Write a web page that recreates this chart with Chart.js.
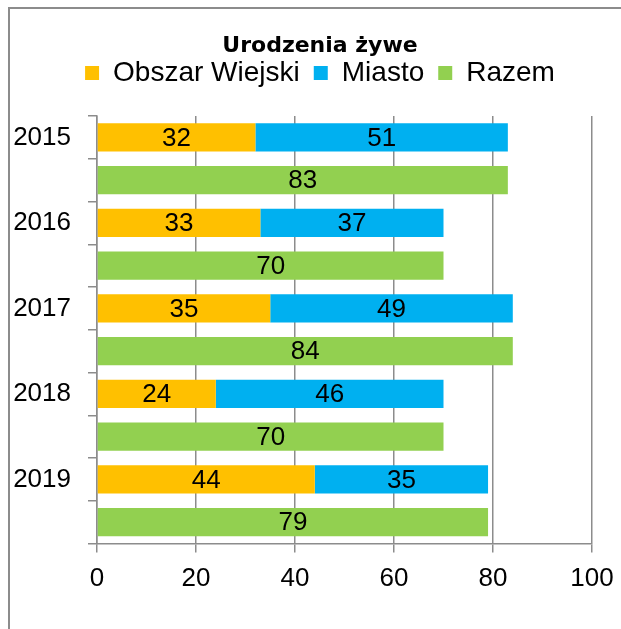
<!DOCTYPE html>
<html>
<head>
<meta charset="utf-8">
<script src="https://cdn.jsdelivr.net/npm/chart.js@4"></script>
<style>
  html, body { margin: 0; padding: 0; background: #fff; overflow: hidden; width: 621px; height: 629px; }
  #frame { position: absolute; left: 8px; top: 7px; width: 800px; height: 800px;
           border-left: 2px solid #8c8c8c; border-top: 2px solid #8c8c8c; box-sizing: border-box; }
  #wrap { position: absolute; left: 0; top: 0; width: 621px; height: 629px; }
</style>
</head>
<body>
<div id="frame"></div>
<div id="wrap"><canvas id="c" width="621" height="629"></canvas></div>
<script>
const years = ['2015', '2016', '2017', '2018', '2019'];
const obszarWiejski = [32, 33, 35, 24, 44];
const miasto = [51, 37, 49, 46, 35];
const razem = [83, 70, 84, 70, 79];
const xTicks = [0, 20, 40, 60, 80, 100];
const titleText = 'Urodzenia żywe';
const seriesNames = ['Obszar Wiejski', 'Miasto', 'Razem'];
const seriesColors = ['#FFC000', '#00B0F0', '#92D050'];

// Each year has two rows: stacked (Obszar Wiejski + Miasto) and Razem
const labels = [];
const dWiejski = [], dMiasto = [], dRazem = [];
years.forEach((y, i) => {
  labels.push(y, '');
  dWiejski.push(obszarWiejski[i], null);
  dMiasto.push(miasto[i], null);
  dRazem.push(null, razem[i]);
});

const valueLabels = {
  id: 'valueLabels',
  afterDatasetsDraw(chart) {
    const ctx = chart.ctx;
    ctx.save();
    ctx.font = '26px "Liberation Sans"';
    ctx.fillStyle = '#000';
    ctx.textAlign = 'center';
    ctx.textBaseline = 'middle';
    chart.data.datasets.forEach((ds, i) => {
      chart.getDatasetMeta(i).data.forEach((el, j) => {
        const v = ds.data[j];
        if (v == null) return;
        const p = el.getCenterPoint();
        ctx.fillText(String(v), p.x, p.y + 1);
      });
    });
    ctx.restore();
  }
};

// let the year labels extend into the left padding without being clipped
const widenYLabelArea = {
  id: 'widenYLabelArea',
  afterLayout(chart) { chart.scales.y.left = 0; }
};

const gridColor = '#8c8c8c';

new Chart(document.getElementById('c'), {
  type: 'bar',
  data: {
    labels: labels,
    datasets: [
      { label: seriesNames[0], data: dWiejski, backgroundColor: seriesColors[0] },
      { label: seriesNames[1], data: dMiasto, backgroundColor: seriesColors[1] },
      { label: seriesNames[2], data: dRazem, backgroundColor: seriesColors[2] }
    ]
  },
  options: {
    indexAxis: 'y',
    responsive: false,
    animation: false,
    devicePixelRatio: 1,
    categoryPercentage: 1.0,
    barPercentage: 0.655,
    layout: { padding: { top: 33, left: 48, right: 29, bottom: 0 } },
    plugins: {
      title: {
        display: true,
        text: titleText,
        color: '#000',
        font: { family: '"DejaVu Sans"', size: 22, weight: 'bold', lineHeight: 1.2 },
        padding: { top: 0, bottom: -14.4 }
      },
      subtitle: {
        display: true,
        text: '',
        weight: 500,
        font: { size: 1, lineHeight: 1 },
        padding: { top: 18, bottom: 0 }
      },
      legend: {
        display: true,
        position: 'top',
        labels: {
          boxWidth: 14,
          boxHeight: 14,
          padding: 14,
          color: '#000',
          font: { family: '"Liberation Sans"', size: 28 }
        }
      },
      tooltip: { enabled: false }
    },
    scales: {
      x: {
        stacked: true,
        min: 0,
        max: 100,
        afterBuildTicks: s => { s.ticks = xTicks.map(v => ({ value: v })); },
        afterFit: s => { s.height = 85.5; s.paddingLeft = 0; s.paddingRight = 0; },
        grid: { color: gridColor, lineWidth: 1.5, tickLength: 9, drawTicks: true },
        border: { color: gridColor, width: 1.5 },
        ticks: { color: '#000', padding: 11, font: { family: '"Liberation Sans"', size: 26 } }
      },
      y: {
        stacked: true,
        afterFit: s => { s.width = 49; },
        grid: { drawOnChartArea: false, color: gridColor, lineWidth: 1.5, tickLength: 9, offset: true },
        border: { color: gridColor, width: 1.5 },
        ticks: { color: '#000', padding: 17, autoSkip: false, font: { family: '"Liberation Sans"', size: 26 } }
      }
    }
  },
  plugins: [valueLabels, widenYLabelArea]
});
</script>
</body>
</html>
